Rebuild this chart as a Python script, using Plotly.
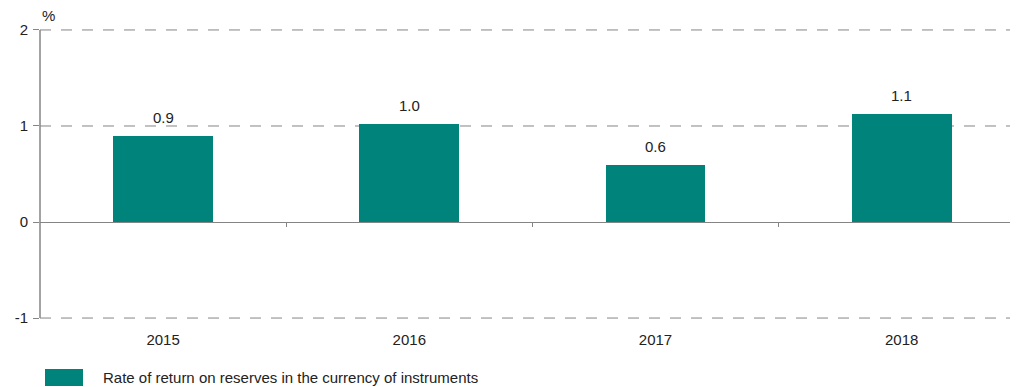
import plotly.graph_objects as go

years = ["2015", "2016", "2017", "2018"]
values = [0.9, 1.02, 0.59, 1.12]
labels = ["0.9", "1.0", "0.6", "1.1"]
series_name = "Rate of return on reserves in the currency of instruments"
y_ticks = [-1, 0, 1, 2]
y_ticktext = ["-1", "0", "1", "2"]

TEAL = "#00837A"
GRID = "#858585"
FONT = "Liberation Sans, Arial, sans-serif"
FS = 15

xs = list(range(len(years)))

fig = go.Figure()
fig.add_trace(go.Bar(x=xs, y=values, width=0.405, marker=dict(color=TEAL, line=dict(width=0)),
                     showlegend=False, hoverinfo="skip"))
fig.add_trace(go.Scatter(x=xs, y=[None] * len(xs), xaxis="x2", yaxis="y", mode="markers",
                         showlegend=False, hoverinfo="skip"))

for x, v, t in zip(xs, values, labels):
    fig.add_annotation(x=x, y=v, text=t, showarrow=False, yanchor="bottom", yshift=8,
                       font=dict(size=FS, color="#222", family=FONT))

xr = [-0.5, 3.44]
yr = [-1.01, 2.01]
fig.update_layout(
    width=1018, height=387,
    margin=dict(l=40, r=8, t=29, b=68),
    paper_bgcolor="white", plot_bgcolor="white",
    font=dict(family=FONT, size=FS, color="#222"),
    bargap=0,
    xaxis=dict(range=xr, anchor="free", position=(0 - yr[0]) / (yr[1] - yr[0]), showline=True,
               linecolor=GRID, linewidth=1,
               tickmode="array", tickvals=[0.5, 1.5, 2.5], ticks="outside", ticklen=4,
               tickcolor=GRID, showticklabels=False, showgrid=False, zeroline=False),
    xaxis2=dict(range=xr, overlaying="x", anchor="y", side="bottom", tickmode="array",
                tickvals=xs, ticktext=years, showline=False, showgrid=False, zeroline=False,
                ticks="", tickfont=dict(size=FS, color="#222"), ticklabelstandoff=10),
    yaxis=dict(range=yr, tickmode="array", tickvals=y_ticks, ticktext=y_ticktext,
               showline=False, ticks="outside", ticklen=6, tickcolor=GRID,
               showgrid=False, zeroline=False,
               tickfont=dict(size=FS, color="#222"), ticklabelstandoff=2),
    showlegend=False,
)

# dashed gridlines at non-zero ticks
for v in y_ticks:
    if v != 0:
        fig.add_shape(type="line", xref="paper", yref="y", x0=0, x1=1, y0=v, y1=v, layer="below",
                      line=dict(color=GRID, width=1, dash="11px,10px"))

# y axis line spanning exactly -1..2
fig.add_shape(type="line", xref="paper", yref="y", x0=0, x1=0, y0=y_ticks[0], y1=y_ticks[-1],
              line=dict(color=GRID, width=1.5))

fig.add_annotation(xref="paper", yref="paper", x=0.0, y=1.0, yshift=3, text="%", showarrow=False,
                   xanchor="left", yanchor="bottom", font=dict(size=FS, color="#222", family=FONT))

# legend (drawn)
PH = 290
fig.add_shape(type="rect", xref="paper", yref="paper", x0=5/970, x1=43/970,
              y0=-(386 - 319) / PH, y1=-(369 - 319) / PH,
              fillcolor=TEAL, line=dict(width=0))
fig.add_annotation(xref="paper", yref="paper", x=61/970, y=-(377.5 - 319) / PH, text=series_name,
                   showarrow=False, xanchor="left", yanchor="middle",
                   font=dict(size=FS, color="#222", family=FONT))

fig.write_html("out.html")
